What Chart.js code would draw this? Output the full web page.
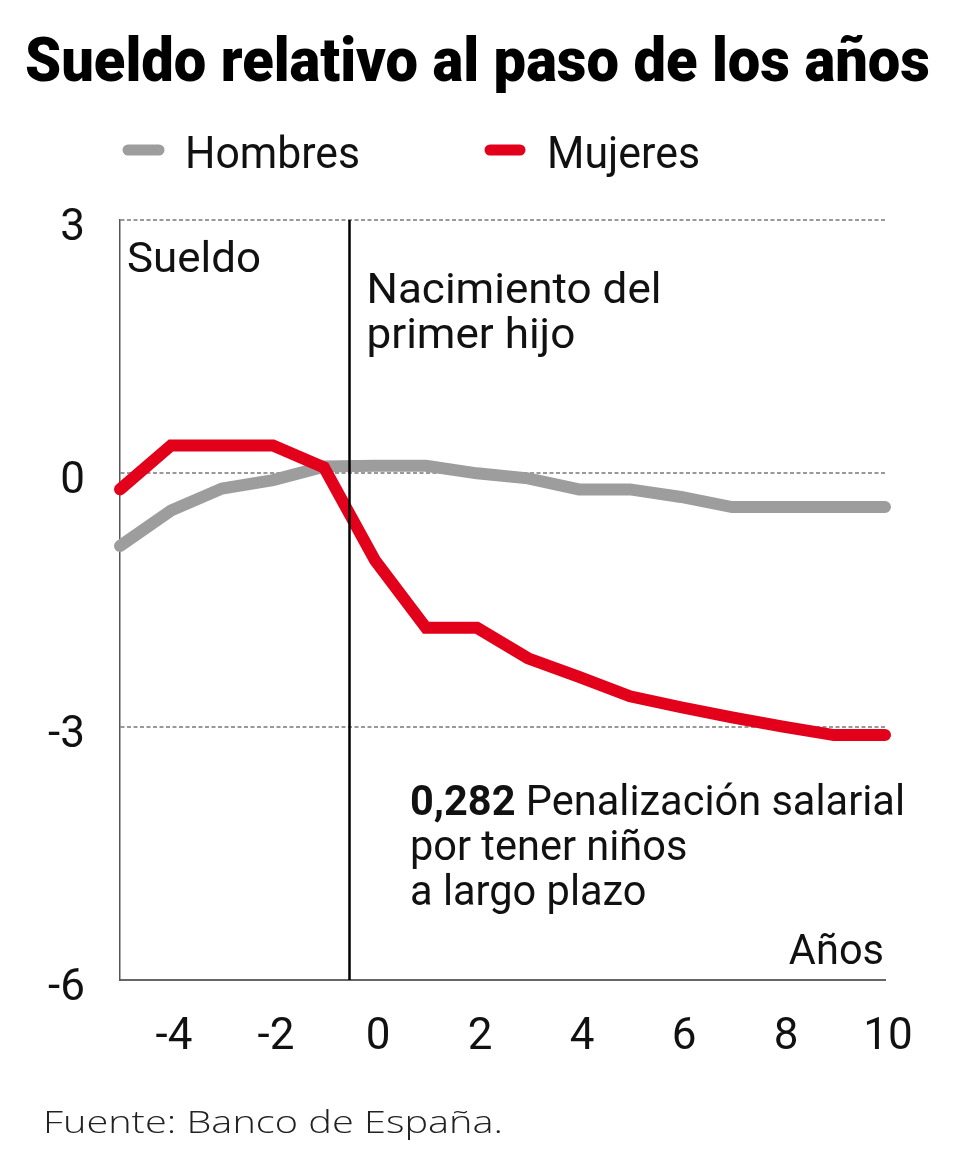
<!DOCTYPE html>
<html>
<head>
<meta charset="utf-8">
<script src="https://cdn.jsdelivr.net/npm/chart.js@4.4.1/dist/chart.umd.min.js"></script>
<style>
html,body{margin:0;padding:0;background:#ffffff;}
#wrap{position:relative;width:960px;height:1155px;}
canvas{display:block;}
</style>
</head>
<body>
<div id="wrap"><canvas id="c" width="960" height="1155"></canvas></div>
<script>
// ---------- data ----------
const years = [-5, -4, -3, -2, -1, 0, 1, 2, 3, 4, 5, 6, 7, 8, 9, 10];
const hombres = [-0.86, -0.44, -0.18, -0.08, 0.08, 0.09, 0.09, 0.0, -0.06, -0.19, -0.19, -0.28, -0.40, -0.40, -0.40, -0.40];
const mujeres = [-0.19, 0.33, 0.33, 0.33, 0.07, -1.03, -1.83, -1.83, -2.19, -2.41, -2.64, -2.77, -2.89, -3.00, -3.10, -3.10];
const seriesNames = ['Hombres', 'Mujeres'];
const xTickValues = [-4, -2, 0, 2, 4, 6, 8, 10];
const xTickLabels = ['-4', '-2', '0', '2', '4', '6', '8', '10'];
const yTickValues = [-6, -3, 0, 3];
const yTickLabels = ['-6', '-3', '0', '3'];
const birthYear = -0.5;

const titleText = 'Sueldo relativo al paso de los años';
const yAxisText = 'Sueldo';
const birthText = ['Nacimiento del', 'primer hijo'];
const penaltyValue = '0,282';
const penaltyText = [' Penalización salarial', 'por tener niños', 'a largo plazo'];
const xAxisText = 'Años';
const sourceText = 'Fuente: Banco de España.';

const GRAY = '#9d9d9d';
const RED = '#e2001a';
const FONT = 'Roboto, "Open Sans", sans-serif';

// ---------- text helpers ----------
function measureParts(ctx, parts) {
  let total = 0;
  parts.forEach(p => { ctx.font = p.font; p.w = ctx.measureText(p.text).width; total += p.w; });
  return total;
}
function drawParts(ctx, parts, x, y, scale, align) {
  const total = measureParts(ctx, parts);
  ctx.save();
  ctx.translate(x, y);
  ctx.scale(scale, 1);
  ctx.textBaseline = 'alphabetic';
  ctx.textAlign = 'left';
  let cx = align === 'right' ? -total : 0;
  parts.forEach(p => {
    ctx.font = p.font;
    ctx.fillStyle = p.color || '#111';
    ctx.fillText(p.text, cx, 0);
    cx += p.w;
  });
  ctx.restore();
}
function fitScale(ctx, parts, target) {
  return target / measureParts(ctx, parts);
}

const decorPlugin = {
  id: 'decor',
  afterDatasetsDraw(chart) {
    const ctx = chart.ctx;
    const xs = chart.scales.x, ys = chart.scales.y;
    const bx = xs.getPixelForValue(birthYear);
    ctx.save();
    ctx.strokeStyle = '#000';
    ctx.lineWidth = 2.5;
    ctx.beginPath();
    ctx.moveTo(bx, ys.getPixelForValue(3));
    ctx.lineTo(bx, ys.getPixelForValue(-6));
    ctx.stroke();
    ctx.restore();
  },
  afterDraw(chart) {
    const ctx = chart.ctx;
    const xs = chart.scales.x;
    const area = chart.chartArea;
    const reg = '42px ' + FONT;

    // title
    const tParts = [{text: titleText, font: '900 61px ' + FONT, color: '#000'}];
    drawParts(ctx, tParts, 25, 81, fitScale(ctx, tParts, 905));

    // legend
    const legend = [
      {name: seriesNames[0], color: GRAY, x0: 128, x1: 159, tx: 185, tw: 175},
      {name: seriesNames[1], color: RED, x0: 490, x1: 520, tx: 547, tw: 153}
    ];
    legend.forEach(l => {
      ctx.save();
      ctx.strokeStyle = l.color;
      ctx.lineWidth = 11;
      ctx.lineCap = 'round';
      ctx.beginPath();
      ctx.moveTo(l.x0, 150);
      ctx.lineTo(l.x1, 150);
      ctx.stroke();
      ctx.restore();
      const p = [{text: l.name, font: '44px ' + FONT, color: '#111'}];
      drawParts(ctx, p, l.tx, 168, fitScale(ctx, p, l.tw));
    });

    // "Sueldo"
    const sp = [{text: yAxisText, font: reg}];
    drawParts(ctx, sp, area.left + 7, area.top + 52, fitScale(ctx, sp, 134));

    // birth annotation
    const b0 = [{text: birthText[0], font: reg}];
    const bs = fitScale(ctx, b0, 295);
    const bx = xs.getPixelForValue(birthYear) + 17;
    drawParts(ctx, b0, bx, area.top + 83, bs);
    drawParts(ctx, [{text: birthText[1], font: reg}], bx, area.top + 128, bs);

    // penalty annotation
    const p0 = [{text: penaltyValue, font: 'bold 42px ' + FONT}, {text: penaltyText[0], font: reg}];
    const ps = fitScale(ctx, p0, 495);
    drawParts(ctx, p0, 410, 815, ps);
    drawParts(ctx, [{text: penaltyText[1], font: reg}], 410, 860, ps);
    drawParts(ctx, [{text: penaltyText[2], font: reg}], 410, 905, ps);

    // "Años"
    drawParts(ctx, [{text: xAxisText, font: reg}], area.right - 1, 964, ps, 'right');

    // source
    const src = [{text: sourceText, font: '300 32px "Open Sans", Lato, sans-serif', color: '#222'}];
    drawParts(ctx, src, 43, 1133, fitScale(ctx, src, 460));
  }
};

const toPoints = vals => years.map((x, i) => ({x: x, y: vals[i]}));

new Chart(document.getElementById('c'), {
  type: 'line',
  data: {
    datasets: [
      {
        label: seriesNames[0],
        data: toPoints(hombres),
        borderColor: GRAY,
        backgroundColor: GRAY,
        borderWidth: 12,
        borderCapStyle: 'round',
        borderJoinStyle: 'miter',
        pointRadius: 0,
        tension: 0,
        fill: false,
        clip: false,
        order: 2
      },
      {
        label: seriesNames[1],
        data: toPoints(mujeres),
        borderColor: RED,
        backgroundColor: RED,
        borderWidth: 12,
        borderCapStyle: 'round',
        borderJoinStyle: 'miter',
        pointRadius: 0,
        tension: 0,
        fill: false,
        clip: false,
        order: 1
      }
    ]
  },
  options: {
    responsive: false,
    animation: false,
    devicePixelRatio: 1,
    layout: {padding: {left: 0, right: 75, top: 220, bottom: 75}},
    plugins: {legend: {display: false}, title: {display: false}, tooltip: {enabled: false}},
    scales: {
      x: {
        type: 'linear',
        min: -5,
        max: 10,
        grid: {display: false, drawTicks: false},
        border: {display: true, color: '#666', width: 2},
        afterBuildTicks: s => { s.ticks = xTickValues.map(v => ({value: v})); },
        afterFit: s => { s.height = 100; },
        ticks: {
          padding: 32,
          labelOffset: 3,
          color: '#111',
          font: {family: FONT, size: 44, lineHeight: 1.2},
          maxRotation: 0,
          autoSkip: false,
          callback: v => xTickLabels[xTickValues.indexOf(v)]
        }
      },
      y: {
        type: 'linear',
        min: -6,
        max: 3,
        z: 1,
        grid: {
          drawTicks: false,
          lineWidth: 2,
          color: c => (c.tick && c.tick.value === -6) ? 'rgba(0,0,0,0)' : '#999999'
        },
        border: {display: true, color: '#555', width: 1.5, dash: [4, 2.5]},
        afterBuildTicks: s => { s.ticks = yTickValues.map(v => ({value: v})); },
        afterFit: s => { s.width = 120; },
        ticks: {
          padding: 35,
          labelOffset: 9,
          color: '#111',
          font: {family: FONT, size: 44, lineHeight: 1.2},
          autoSkip: false,
          callback: v => yTickLabels[yTickValues.indexOf(v)]
        }
      }
    }
  },
  plugins: [decorPlugin]
});
</script>
</body>
</html>
